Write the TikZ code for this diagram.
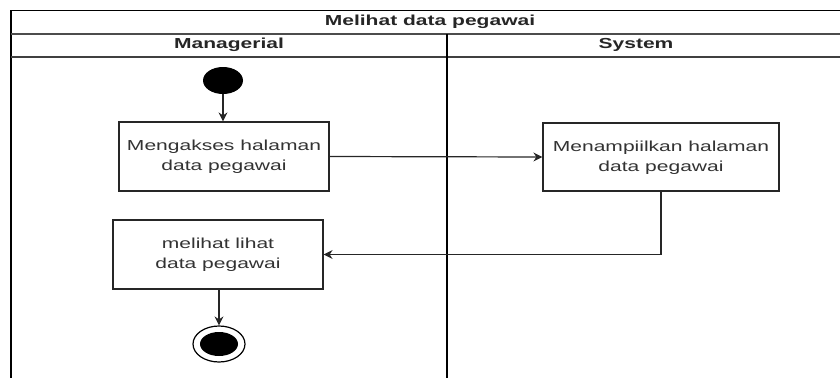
\documentclass[tikz,border=0pt]{standalone}
\usepackage{fontspec}
\setmainfont{Liberation Sans}
\usetikzlibrary{arrows.meta,shapes.geometric}
\newcommand\widetext[1]{\scalebox{1.45}[1]{\begin{tabular}{@{}c@{}}#1\end{tabular}}}
\tikzset{
  lane/.style={draw=black, line width=1.3pt},
  action/.style={draw=black!85, line width=1.2pt, rectangle, minimum width=210pt,
    minimum height=69pt, inner sep=0pt, fill=white, text=black!80,
    font=\fontsize{14.5}{20}\selectfont},
  flow/.style={draw=black!85, line width=1.2pt, -{Stealth[length=9pt,width=9pt]}},
  lanetitle/.style={font=\bfseries\fontsize{14.5}{17}\selectfont, text=black!85, inner sep=0pt}
}
\begin{document}
\begin{tikzpicture}[x=1pt, y=-1pt]
\useasboundingbox (0,0) rectangle (840,378);
% swimlane frame
\draw[lane] (840,10.5) -- (11,10.5) -- (11,378);
\draw[lane, draw=black!70] (11,34) -- (840,34);
\draw[lane, draw=black!75] (11,57) -- (840,57);
\draw[lane] (447,34) -- (447,378);
\node[lanetitle] (title) at (430,22) {\widetext{Melihat data pegawai}};
\node[lanetitle] (laneA) at (229,45.5) {\widetext{Managerial}};
\node[lanetitle] (laneB) at (636,45.5) {\widetext{System}};
% activity nodes
\node[ellipse, fill=black, minimum width=40pt, minimum height=27pt, inner sep=0pt] (start) at (223,80.5) {};
\node[action] (a1) at (224,156.5) {\widetext{Mengakses halaman\\data pegawai}};
\node[action, minimum width=236pt, minimum height=68pt] (a2) at (661,157) {\widetext{Menampiilkan halaman\\data pegawai}};
\node[action, minimum height=69pt] (a3) at (218,254.5) {\widetext{melihat lihat\\data pegawai}};
\node[ellipse, draw=black, line width=1.2pt, minimum width=52pt, minimum height=36pt, inner sep=0pt] (finish) at (219,344) {};
\node[ellipse, fill=black, minimum width=38pt, minimum height=24pt, inner sep=0pt] (finishdot) at (finish.center) {};
% connectors
\draw[flow] (start) -- (a1.north -| start);
\draw[flow] (a1.east) -- (a2.west);
\draw[flow] (a2.south) |- (a3.east);
\draw[flow] (a3.south -| finish) -- (finish.north);
\end{tikzpicture}
\end{document}
